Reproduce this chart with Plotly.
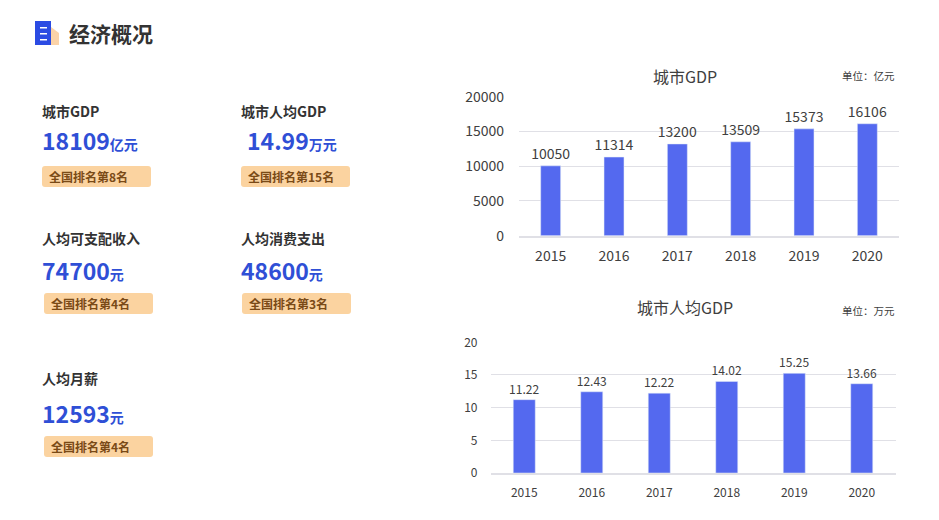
import plotly.graph_objects as go
from plotly.subplots import make_subplots

# the page body has an 8px margin, so the figure is smaller and positions are shifted
PAGE = 8
W = 923
H = 504
FONT = "Noto Sans CJK SC"

years = ["2015", "2016", "2017", "2018", "2019", "2020"]
gdp = [10050, 11314, 13200, 13509, 15373, 16106]
gdp_ticks = [0, 5000, 10000, 15000, 20000]
gdp_per_head = [11.22, 12.43, 12.22, 14.02, 15.25, 13.66]
per_head_labels = ["11.22", "12.43", "12.22", "14.02", "15.25", "13.66"]
per_head_ticks = [0, 5, 10, 15, 20]

card_titles = ["城市GDP", "城市人均GDP", "人均可支配收入", "人均消费支出", "人均月薪"]
card_values = ["18109", "14.99", "74700", "48600", "12593"]
card_units = ["亿元", "万元", "元", "元", "元"]
card_ranks = ["全国排名第8名", "全国排名第15名", "全国排名第4名", "全国排名第3名", "全国排名第4名"]


def px_x(x):
    return (x - PAGE) / W


def px_y(y):
    return 1 - (y - PAGE) / H


def label(x, y, text, size, color, anchor="left"):
    fig.add_annotation(x=px_x(x), y=px_y(y), xref="paper", yref="paper", text=text,
                       showarrow=False, xanchor=anchor, yanchor="middle",
                       font=dict(family=FONT, size=size, color=color))


def rounded(x0, y0, x1, y1, r, color):
    path = (f"M {px_x(x0 + r)} {px_y(y0)} L {px_x(x1 - r)} {px_y(y0)} "
            f"Q {px_x(x1)} {px_y(y0)} {px_x(x1)} {px_y(y0 + r)} L {px_x(x1)} {px_y(y1 - r)} "
            f"Q {px_x(x1)} {px_y(y1)} {px_x(x1 - r)} {px_y(y1)} L {px_x(x0 + r)} {px_y(y1)} "
            f"Q {px_x(x0)} {px_y(y1)} {px_x(x0)} {px_y(y1 - r)} L {px_x(x0)} {px_y(y0 + r)} "
            f"Q {px_x(x0)} {px_y(y0)} {px_x(x0 + r)} {px_y(y0)} Z")
    fig.add_shape(type="path", path=path, xref="paper", yref="paper", fillcolor=color, line_width=0, layer="below")


fig = make_subplots(rows=2, cols=1)
fig.add_trace(go.Bar(x=years, y=gdp, text=gdp, textposition="outside", width=0.315, marker_color="#5469ef",
                     textfont=dict(family=FONT, size=14, color="#404040"), cliponaxis=False,
                     constraintext="none"), row=1, col=1)
fig.add_trace(go.Bar(x=years, y=gdp_per_head, text=per_head_labels, textposition="outside", width=0.326,
                     marker_color="#5469ef", textfont=dict(family=FONT, size=12, color="#404040"),
                     cliponaxis=False, constraintext="none"), row=2, col=1)

fig.update_layout(width=W, height=H, margin=dict(l=0, r=0, t=0, b=0), paper_bgcolor="white", plot_bgcolor="white",
                  showlegend=False, font=dict(family=FONT, color="#404040"))
fig.update_xaxes(type="category", automargin=False, showgrid=False, ticks="", showline=True,
                 linecolor="#e0e0e6", linewidth=2)
fig.update_yaxes(automargin=False, showgrid=True, gridcolor="#e0e0e6", gridwidth=1, ticks="", zeroline=False,
                 tickformat="d")

fig.update_xaxes(domain=[px_x(519), px_x(899)], tickfont_size=14, ticklabelstandoff=6, row=1, col=1)
fig.update_yaxes(domain=[px_y(235.7), px_y(96.7)], range=[0, 20000], tickvals=gdp_ticks, tickfont_size=14,
                 ticklabelstandoff=14, row=1, col=1)
fig.update_xaxes(domain=[px_x(490.5), px_x(895.5)], tickfont_size=12, ticklabelstandoff=8, row=2, col=1)
fig.update_yaxes(domain=[px_y(473), px_y(342.3)], range=[0, 20], tickvals=per_head_ticks, tickfont_size=12,
                 ticklabelstandoff=12, row=2, col=1)

# heading and icon
fig.add_shape(type="path", xref="paper", yref="paper", fillcolor="#fbd3a8", line_width=0,
              path=f"M {px_x(51)} {px_y(27)} L {px_x(59)} {px_y(33)} L {px_x(59)} {px_y(45)} L {px_x(51)} {px_y(45)} Z")
fig.add_shape(type="rect", xref="paper", yref="paper", fillcolor="#2b4be3", line_width=0,
              x0=px_x(35), x1=px_x(51), y0=px_y(45), y1=px_y(21))
for line_y in [27, 33, 39]:
    fig.add_shape(type="rect", xref="paper", yref="paper", fillcolor="white", line_width=0,
                  x0=px_x(40), x1=px_x(47), y0=px_y(line_y + 1.5), y1=px_y(line_y))
label(67, 33, "<b>经济概况</b>", 21, "#333333")

# left cards
card_x = [40, 239, 40, 239, 40]
value_x = [40, 245, 40, 239, 40]
badge_x = [42, 241, 44, 242, 44]
title_y = [111, 111, 238, 238, 378]
value_y = [140, 140, 270, 270, 413]
badge_y = [177, 177, 304, 304, 447]
for i in range(5):
    label(card_x[i], title_y[i], f"<b>{card_titles[i]}</b>", 14, "#333333")
    label(value_x[i], value_y[i],
          f"<b>{card_values[i]}<span style='font-size:14px'>{card_units[i]}</span></b>", 23, "#2f4fd6")
    width = 109
    rounded(badge_x[i], badge_y[i] - 11, badge_x[i] + width, badge_y[i] + 10, 3, "#fbd3a0")
    label(badge_x[i] + 5, badge_y[i] - 0.5, f"<b>{card_ranks[i]}</b>", 12, "#7a4a17")

# chart titles and units
label(685, 76, "城市GDP", 16, "#404040", "center")
label(897, 76, "单位：亿元", 10.5, "#404040", "right")
label(685, 307, "城市人均GDP", 16, "#404040", "center")
label(897, 310, "单位：万元", 10.5, "#404040", "right")

fig.write_html("out.html")
